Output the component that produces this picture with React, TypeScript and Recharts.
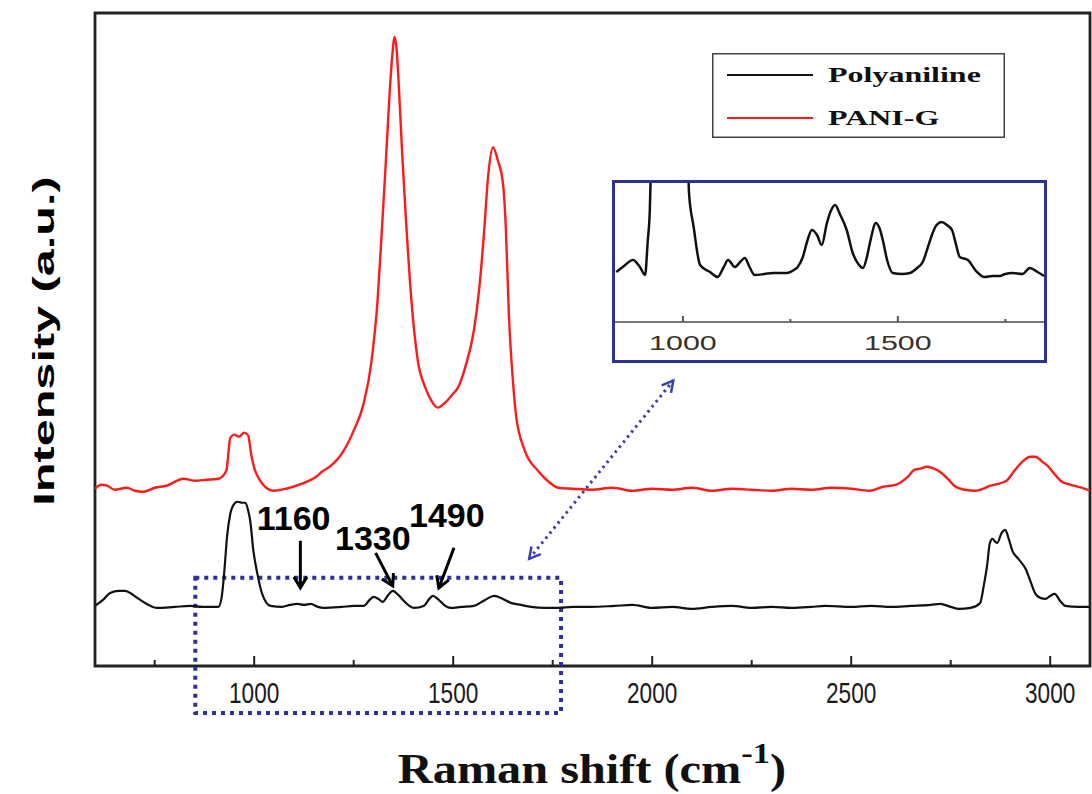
import React from 'react';
import { LineChart, Line, XAxis, YAxis, ReferenceArea, ReferenceLine, ReferenceDot, Legend } from 'recharts';

// Raman shift (cm-1) vs. intensity (a.u.)
const polyaniline = [
  { shift: 600, v: 60 }, { shift: 620, v: 66 }, { shift: 638, v: 73 }, { shift: 660, v: 75 }, { shift: 675, v: 75 },
  { shift: 706, v: 68 }, { shift: 730, v: 62 }, { shift: 756, v: 58 }, { shift: 800, v: 59 }, { shift: 839, v: 60 },
  { shift: 870, v: 59 }, { shift: 910, v: 59 }, { shift: 918, v: 68 }, { shift: 925, v: 95 }, { shift: 932, v: 130 },
  { shift: 940, v: 152 }, { shift: 950, v: 162 }, { shift: 958, v: 164 }, { shift: 970, v: 163 }, { shift: 978, v: 163 },
  { shift: 985, v: 155 }, { shift: 990, v: 145 }, { shift: 998, v: 115 }, { shift: 1008, v: 92 }, { shift: 1020, v: 72 },
  { shift: 1041, v: 60 }, { shift: 1070, v: 59 }, { shift: 1090, v: 61 }, { shift: 1109, v: 62 }, { shift: 1125, v: 61 },
  { shift: 1142, v: 62 }, { shift: 1160, v: 59 }, { shift: 1174, v: 58 }, { shift: 1220, v: 59 }, { shift: 1250, v: 60 },
  { shift: 1275, v: 60 }, { shift: 1290, v: 66 }, { shift: 1300, v: 69 }, { shift: 1312, v: 67 }, { shift: 1323, v: 64 },
  { shift: 1335, v: 70 }, { shift: 1348, v: 75 }, { shift: 1362, v: 71 }, { shift: 1376, v: 65 }, { shift: 1390, v: 60 },
  { shift: 1401, v: 58 }, { shift: 1426, v: 60 }, { shift: 1440, v: 67 }, { shift: 1449, v: 70 }, { shift: 1458, v: 68 },
  { shift: 1469, v: 64 }, { shift: 1480, v: 60 }, { shift: 1494, v: 58 }, { shift: 1520, v: 59 }, { shift: 1552, v: 60 },
  { shift: 1580, v: 66 }, { shift: 1603, v: 70 }, { shift: 1625, v: 67 }, { shift: 1645, v: 63 }, { shift: 1670, v: 61 },
  { shift: 1696, v: 59 }, { shift: 1730, v: 58 }, { shift: 1764, v: 58 }, { shift: 1800, v: 59 }, { shift: 1847, v: 59 },
  { shift: 1905, v: 60 }, { shift: 1950, v: 61 }, { shift: 2000, v: 58 }, { shift: 2050, v: 59 }, { shift: 2099, v: 57 },
  { shift: 2150, v: 59 }, { shift: 2200, v: 60 }, { shift: 2250, v: 58 }, { shift: 2300, v: 59 }, { shift: 2350, v: 58 },
  { shift: 2400, v: 59 }, { shift: 2434, v: 60 }, { shift: 2500, v: 59 }, { shift: 2550, v: 60 }, { shift: 2600, v: 59 },
  { shift: 2650, v: 60 }, { shift: 2700, v: 61 }, { shift: 2724, v: 62 }, { shift: 2750, v: 59 }, { shift: 2771, v: 57 },
  { shift: 2800, v: 58 }, { shift: 2824, v: 63 }, { shift: 2833, v: 80 }, { shift: 2842, v: 102 }, { shift: 2848, v: 122 },
  { shift: 2855, v: 127 }, { shift: 2862, v: 124 }, { shift: 2867, v: 123 }, { shift: 2878, v: 133 }, { shift: 2887, v: 136 },
  { shift: 2895, v: 128 }, { shift: 2905, v: 115 }, { shift: 2920, v: 107 }, { shift: 2938, v: 97 }, { shift: 2950, v: 85 },
  { shift: 2963, v: 72 }, { shift: 2975, v: 68 }, { shift: 2988, v: 67 }, { shift: 3000, v: 70 }, { shift: 3011, v: 72 },
  { shift: 3025, v: 65 }, { shift: 3038, v: 60 }, { shift: 3070, v: 59 }, { shift: 3100, v: 59 },
];

const paniG = [
  { shift: 600, v: 177 }, { shift: 615, v: 181 }, { shift: 630, v: 180 }, { shift: 650, v: 176 }, { shift: 680, v: 178 },
  { shift: 700, v: 175 }, { shift: 721, v: 174 }, { shift: 750, v: 178 }, { shift: 780, v: 180 }, { shift: 822, v: 187 },
  { shift: 850, v: 185 }, { shift: 880, v: 186 }, { shift: 910, v: 187 }, { shift: 930, v: 195 }, { shift: 940, v: 228 },
  { shift: 950, v: 231 }, { shift: 962, v: 229 }, { shift: 975, v: 233 }, { shift: 985, v: 230 }, { shift: 993, v: 210 },
  { shift: 1000, v: 198 }, { shift: 1015, v: 185 }, { shift: 1030, v: 178 }, { shift: 1048, v: 175 }, { shift: 1080, v: 177 },
  { shift: 1120, v: 182 }, { shift: 1159, v: 190 }, { shift: 1170, v: 194 }, { shift: 1190, v: 199 }, { shift: 1225, v: 215 },
  { shift: 1250, v: 235 }, { shift: 1275, v: 262 }, { shift: 1295, v: 305 }, { shift: 1310, v: 365 }, { shift: 1320, v: 430 },
  { shift: 1330, v: 498 }, { shift: 1340, v: 570 }, { shift: 1347, v: 610 }, { shift: 1353, v: 628 }, { shift: 1358, v: 615 },
  { shift: 1363, v: 582 }, { shift: 1372, v: 510 }, { shift: 1381, v: 448 }, { shift: 1395, v: 365 }, { shift: 1411, v: 305 },
  { shift: 1430, v: 278 }, { shift: 1445, v: 265 }, { shift: 1461, v: 258 }, { shift: 1480, v: 263 }, { shift: 1500, v: 272 },
  { shift: 1512, v: 278 }, { shift: 1530, v: 298 }, { shift: 1552, v: 335 }, { shift: 1565, v: 375 }, { shift: 1577, v: 430 },
  { shift: 1588, v: 490 }, { shift: 1600, v: 518 }, { shift: 1612, v: 505 }, { shift: 1625, v: 482 }, { shift: 1632, v: 440 },
  { shift: 1640, v: 350 }, { shift: 1650, v: 285 }, { shift: 1658, v: 250 }, { shift: 1680, v: 215 }, { shift: 1713, v: 195 },
  { shift: 1740, v: 184 }, { shift: 1764, v: 178 }, { shift: 1800, v: 177 }, { shift: 1847, v: 176 }, { shift: 1900, v: 178 },
  { shift: 1950, v: 175 }, { shift: 2000, v: 177 }, { shift: 2050, v: 176 }, { shift: 2100, v: 178 }, { shift: 2150, v: 175 },
  { shift: 2200, v: 177 }, { shift: 2250, v: 176 }, { shift: 2300, v: 175 }, { shift: 2350, v: 177 }, { shift: 2400, v: 176 },
  { shift: 2450, v: 178 }, { shift: 2500, v: 177 }, { shift: 2545, v: 175 }, { shift: 2580, v: 179 }, { shift: 2613, v: 181 },
  { shift: 2640, v: 188 }, { shift: 2660, v: 196 }, { shift: 2673, v: 197 }, { shift: 2690, v: 199 }, { shift: 2701, v: 198 },
  { shift: 2726, v: 193 }, { shift: 2745, v: 186 }, { shift: 2759, v: 180 }, { shift: 2785, v: 176 }, { shift: 2812, v: 175 },
  { shift: 2850, v: 180 }, { shift: 2890, v: 185 }, { shift: 2910, v: 195 }, { shift: 2933, v: 205 }, { shift: 2950, v: 209 },
  { shift: 2963, v: 209 }, { shift: 2980, v: 204 }, { shift: 2993, v: 200 }, { shift: 3010, v: 192 }, { shift: 3026, v: 185 },
  { shift: 3050, v: 181 }, { shift: 3079, v: 178 }, { shift: 3100, v: 175 },
];

// Inset: Polyaniline, 850-1840 cm-1 zoom
const insetPolyaniline = [
  { shift: 845, v: 50 }, { shift: 860, v: 55 }, { shift: 884, v: 62 }, { shift: 900, v: 55 }, { shift: 912, v: 47 },
  { shift: 918, v: 80 }, { shift: 923, v: 112 }, { shift: 927, v: 180 }, { shift: 932, v: 260 }, { shift: 1008, v: 260 },
  { shift: 1012, v: 180 }, { shift: 1014, v: 130 }, { shift: 1025, v: 95 }, { shift: 1040, v: 57 }, { shift: 1063, v: 50 },
  { shift: 1081, v: 45 }, { shift: 1095, v: 55 }, { shift: 1105, v: 62 }, { shift: 1121, v: 55 }, { shift: 1133, v: 60 },
  { shift: 1144, v: 64 }, { shift: 1155, v: 55 }, { shift: 1167, v: 47 }, { shift: 1190, v: 48 }, { shift: 1209, v: 49 },
  { shift: 1242, v: 49 }, { shift: 1258, v: 52 }, { shift: 1267, v: 55 }, { shift: 1279, v: 65 }, { shift: 1290, v: 82 },
  { shift: 1300, v: 92 }, { shift: 1312, v: 87 }, { shift: 1323, v: 77 }, { shift: 1335, v: 99 }, { shift: 1345, v: 112 },
  { shift: 1354, v: 117 }, { shift: 1365, v: 108 }, { shift: 1381, v: 92 }, { shift: 1395, v: 69 }, { shift: 1408, v: 58 },
  { shift: 1419, v: 54 }, { shift: 1428, v: 65 }, { shift: 1435, v: 79 }, { shift: 1449, v: 99 }, { shift: 1458, v: 93 },
  { shift: 1465, v: 82 }, { shift: 1475, v: 62 }, { shift: 1488, v: 49 }, { shift: 1510, v: 48 }, { shift: 1528, v: 49 },
  { shift: 1545, v: 54 }, { shift: 1558, v: 60 }, { shift: 1570, v: 75 }, { shift: 1581, v: 89 }, { shift: 1590, v: 97 },
  { shift: 1602, v: 100 }, { shift: 1614, v: 97 }, { shift: 1626, v: 92 }, { shift: 1635, v: 78 }, { shift: 1644, v: 65 },
  { shift: 1663, v: 62 }, { shift: 1680, v: 52 }, { shift: 1702, v: 45 }, { shift: 1720, v: 46 }, { shift: 1737, v: 46 },
  { shift: 1750, v: 48 }, { shift: 1767, v: 49 }, { shift: 1790, v: 48 }, { shift: 1807, v: 54 }, { shift: 1825, v: 50 },
  { shift: 1840, v: 46 },
];

const mainTicks = [750, 1000, 1250, 1500, 1750, 2000, 2250, 2500, 2750, 3000];
const insetTicks = [1000, 1250, 1500, 1750];
const seriesNames = ['Polyaniline', 'PANI-G'];
const seriesColors = ['#111111', '#ff1a1a'];

const MainTick = (props: any) => {
  const { x, y, payload } = props;
  const major = payload.value % 500 === 0;
  return (
    <g>
      <line x1={x} y1={y} x2={x} y2={y - (major ? 10 : 6)} stroke="#222" strokeWidth={2} />
      {major && (
        <text
          x={0}
          y={0}
          transform={`translate(${x},${y + 37}) scale(0.78,1)`}
          textAnchor="middle"
          fontFamily="Arial, 'Liberation Sans', sans-serif"
          fontSize={29}
          fill="#1a1a1a"
        >
          {payload.value}
        </text>
      )}
    </g>
  );
};

const InsetTick = (props: any) => {
  const { x, y, payload } = props;
  const major = payload.value % 500 === 0;
  return (
    <g>
      <line x1={x} y1={y} x2={x} y2={y - (major ? 6 : 3)} stroke="#555" strokeWidth={2} />
      {major && (
        <text
          x={0}
          y={0}
          transform={`translate(${x},${y + 28}) scale(1.45,1)`}
          textAnchor="middle"
          fontFamily="Arial, 'Liberation Sans', sans-serif"
          fontSize={21}
          fill="#3a3028"
        >
          {payload.value}
        </text>
      )}
    </g>
  );
};

const LegendBox = () => (
  <svg width={293} height={85}>
    <rect x={0.75} y={0.75} width={291.5} height={83.5} fill="#fff" stroke="#444" strokeWidth={1.5} />
    {seriesNames.map((name, i) => (
      <g key={name}>
        <line x1={15} x2={101} y1={22 + i * 43} y2={22 + i * 43} stroke={seriesColors[i]} strokeWidth={2} />
        <text
          x={0}
          y={0}
          transform={`translate(116,${29 + i * 43}) scale(1.6,1)`}
          fontFamily="'Liberation Serif', 'Times New Roman', serif"
          fontWeight="bold"
          fontSize={20}
          fill="#111"
        >
          {name}
        </text>
      </g>
    ))}
  </svg>
);

const blackArrow = (p: any) => (
  <line x1={p.x1} y1={p.y1} x2={p.x2} y2={p.y2} stroke="#000" strokeWidth={3} markerEnd="url(#blackHead)" />
);
const blueArrow = (p: any) => (
  <line
    x1={p.x1}
    y1={p.y1}
    x2={p.x2}
    y2={p.y2}
    stroke="#3c40a8"
    strokeWidth={3}
    strokeDasharray="2.5 4"
    markerStart="url(#blueHead)"
    markerEnd="url(#blueHead)"
  />
);
const peakText = (label: string) => (p: any) => (
  <text
    x={p.cx}
    y={p.cy}
    textAnchor="middle"
    dominantBaseline="central"
    fontFamily="Arial, 'Liberation Sans', sans-serif"
    fontWeight="bold"
    fontSize={34}
    fill="#000"
  >
    {label}
  </text>
);

export default function App() {
  return (
    <div style={{ position: 'absolute', left: 0, top: 0, width: 1092, height: 794, background: '#fff' }}>
      <svg width={0} height={0} style={{ position: 'absolute' }}>
        <defs>
          <marker id="blackHead" markerWidth={16} markerHeight={16} refX={12} refY={8} orient="auto" markerUnits="userSpaceOnUse">
            <path d="M1,1.5 L12,8 L1,14.5" fill="none" stroke="#000" strokeWidth={3} />
          </marker>
          <marker id="blueHead" markerWidth={16} markerHeight={16} refX={12} refY={8} orient="auto-start-reverse" markerUnits="userSpaceOnUse">
            <path d="M1,2 L12,8 L1,14" fill="none" stroke="#3c40a8" strokeWidth={2.5} />
          </marker>
        </defs>
      </svg>

      <LineChart width={1092} height={794} margin={{ top: 13, left: 95, right: 2, bottom: 88 }}>
        <XAxis
          dataKey="shift"
          type="number"
          domain={[600, 3100]}
          ticks={mainTicks}
          tick={MainTick}
          tickLine={false}
          tickSize={0}
          tickMargin={0}
          axisLine={false}
          height={40}
          allowDataOverflow
        />
        <YAxis hide type="number" domain={[0, 652]} allowDataOverflow />
        <ReferenceArea x1={600} x2={3100} y1={0} y2={652} fill="none" stroke="#222" strokeWidth={2.8} ifOverflow="visible" />
        <ReferenceArea
          x1={852}
          x2={1771}
          y1={-47}
          y2={88}
          fill="none"
          stroke="#2d2f9a"
          strokeWidth={4}
          strokeDasharray="4 5"
          ifOverflow="visible"
        />
        <Line data={paniG} dataKey="v" name="PANI-G" stroke="#ff1a1a" strokeWidth={2.4} dot={false} type="monotone" isAnimationActive={false} />
        <Line data={polyaniline} dataKey="v" name="Polyaniline" stroke="#111" strokeWidth={2.2} dot={false} type="monotone" isAnimationActive={false} />
        <ReferenceLine segment={[{ x: 1116, y: 125 }, { x: 1116, y: 78 }]} ifOverflow="visible" shape={blackArrow} />
        <ReferenceLine segment={[{ x: 1305, y: 113 }, { x: 1348, y: 80 }]} ifOverflow="visible" shape={blackArrow} />
        <ReferenceLine segment={[{ x: 1502, y: 118 }, { x: 1464, y: 78 }]} ifOverflow="visible" shape={blackArrow} />
        <ReferenceLine segment={[{ x: 1691, y: 107 }, { x: 2053, y: 285 }]} ifOverflow="visible" shape={blueArrow} />
        <ReferenceDot x={1099} y={148} r={0} ifOverflow="visible" shape={peakText('1160')} />
        <ReferenceDot x={1298} y={128} r={0} ifOverflow="visible" shape={peakText('1330')} />
        <ReferenceDot x={1484} y={151} r={0} ifOverflow="visible" shape={peakText('1490')} />
        <Legend
          content={LegendBox}
          layout="horizontal"
          verticalAlign="middle"
          align="center"
          wrapperStyle={{ position: 'absolute', left: 712, top: 53, width: 293, height: 85 }}
        />
      </LineChart>

      <div
        style={{
          position: 'absolute',
          left: 612,
          top: 180,
          width: 435,
          height: 183,
          border: '3px solid #2e3192',
          boxSizing: 'border-box',
          background: '#fff',
        }}
      >
        <LineChart width={429} height={177} data={insetPolyaniline} margin={{ top: 0, right: 0, left: 0, bottom: 0 }}>
          <XAxis
            dataKey="shift"
            type="number"
            domain={[842, 1840]}
            ticks={insetTicks}
            tick={InsetTick}
            tickLine={false}
            tickSize={0}
            tickMargin={0}
            axisLine={{ stroke: '#777', strokeWidth: 2 }}
            height={38}
            allowDataOverflow
          />
          <YAxis hide type="number" domain={[0, 139]} allowDataOverflow />
          <Line dataKey="v" stroke="#111" strokeWidth={2.5} dot={false} type="monotone" isAnimationActive={false} />
        </LineChart>
      </div>

      <div
        style={{
          position: 'absolute',
          left: 44,
          top: 341,
          transform: 'translate(-50%, -50%) rotate(-90deg) scaleX(1.62)',
          fontFamily: "Arial, 'Liberation Sans', sans-serif",
          fontWeight: 'bold',
          fontSize: 30,
          whiteSpace: 'nowrap',
          color: '#000',
          lineHeight: 1,
        }}
      >
        Intensity (a.u.)
      </div>

      <div
        style={{
          position: 'absolute',
          left: 592,
          top: 769,
          transform: 'translate(-50%, -50%) scaleX(1.15)',
          fontFamily: "'Liberation Serif', 'Times New Roman', serif",
          fontWeight: 'bold',
          fontSize: 42,
          whiteSpace: 'nowrap',
          color: '#111',
          lineHeight: 1,
        }}
      >
        Raman shift (cm<span style={{ fontSize: 30, position: 'relative', top: -20 }}>-1</span>)
      </div>
    </div>
  );
}
